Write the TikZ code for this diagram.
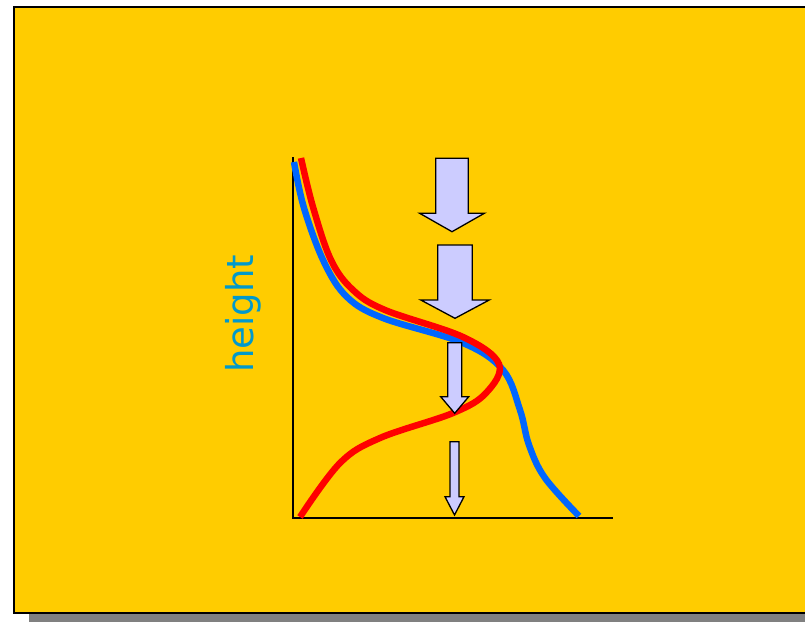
\documentclass[tikz,border=0pt]{standalone}
\usepackage{fontspec}
\newfontfamily\lblfont{DejaVu Sans}
\definecolor{bgyellow}{RGB}{255,204,0}
\definecolor{shadowgray}{RGB}{128,128,128}
\definecolor{curveblue}{RGB}{0,102,255}
\definecolor{curvered}{RGB}{255,0,0}
\definecolor{arrowfill}{RGB}{204,204,255}
\definecolor{labelcyan}{RGB}{0,153,204}
\newcommand{\blockarrowdown}[6]{% cx, top, shaft half, head y, head half, tip
  \draw[blockarrow] (#1-#3,#2) -- (#1+#3,#2) -- (#1+#3,#4) -- (#1+#5,#4) -- (#1,#6) -- (#1-#5,#4) -- (#1-#3,#4) -- cycle;}
\begin{document}
\begin{tikzpicture}[x=1pt,y=-1pt,
  blockarrow/.style={draw=black, line width=1.3pt, fill=arrowfill, line join=miter},
  axisline/.style={draw=black, line width=1.5pt},
  curve/.style={line width=6.5pt, line cap=butt}]
\useasboundingbox (0,0) rectangle (805,621);
% shadow and slide background
\fill[shadowgray] (29,15) rectangle (840,630);
\draw[fill=bgyellow, draw=black, line width=2pt] (14,7) rectangle (830,613);
% axes
\draw[axisline] (293,157) -- (293,518) -- (613,518);
% blue curve
\draw[curve, curveblue] plot[smooth, tension=0.6] coordinates {
  (294,162) (304,208) (324,262) (347,297) (383,318) (463,343)
  (503,370) (520,410) (529,445) (545,478) (579,516)};
% red curve
\draw[curve, curvered] plot[smooth, tension=0.6] coordinates {
  (301,158) (313,207) (331,260) (353,290) (385,310) (463,337)
  (499,364) (486,393) (453,413) (380,438) (340,463) (300,517)};
% arrows
\blockarrowdown{452}{158.3}{16.3}{213.3}{32.3}{231.7}
\blockarrowdown{455}{245}{17.3}{300}{34.2}{318.3}
\blockarrowdown{454.7}{342.7}{7}{396.7}{14}{413.3}
\blockarrowdown{454.5}{441.7}{4.5}{496.7}{9.5}{515}
% label
\node[rotate=90, text=labelcyan, font=\lblfont\fontsize{37}{40}\selectfont, inner sep=0pt] (hlabel) at (243,314) {height};
\end{tikzpicture}
\end{document}
